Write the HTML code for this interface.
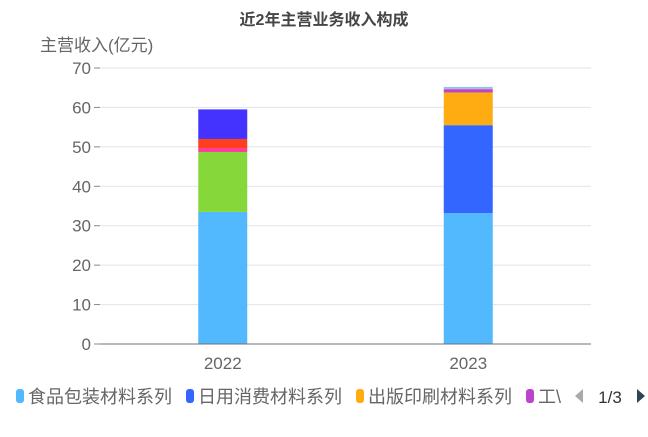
<!DOCTYPE html>
<html><head><meta charset="utf-8"><style>
body{margin:0;background:#fff;font-family:"Liberation Sans","Noto Sans CJK SC",sans-serif}
svg text{font-family:"Liberation Sans","Noto Sans CJK SC",sans-serif}
</style></head><body>
<svg id="c" width="648" height="432">
<text x="324" y="25" text-anchor="middle" font-size="16" font-weight="bold" fill="#464646">近2年主营业务收入构成</text>
<text x="40" y="51" font-size="17" fill="#666">主营收入(亿元)</text>
<g id="grid"></g><g id="bars"></g><g id="axes"></g><g id="legend"></g>
</svg>
<script>
const categories=["2022","2023"];
const seriesNames=["食品包装材料系列","日用消费材料系列","出版印刷材料系列","工业用材料系列","农用材料系列","医用材料系列","其他材料系列","其他业务","贸易业务"];
const seriesColors=["#52b9ff","#3366ff","#ffab12","#bb44cc","#86d83a","#ff3c9c","#ff3e1e","#4433ff","#7ec8f0"];
const values2022=[33.5,0,0,0,15.2,1.0,2.3,7.5,0];
const values2023=[33.2,22.3,8.3,0.7,0,0.2,0,0,0.5];
const seriesValues=[values2022,values2023];
const yTicks=[0,10,20,30,40,50,60,70];
const NS="http://www.w3.org/2000/svg";
const x0=100,x1=591,y0=344,yTop=68,yMax=70;
const y=v=>y0-v/yMax*(y0-yTop);
const band=(x1-x0)/categories.length;
const xc=i=>x0+band*(i+0.5);
const barW=49;
function mk(t,a,p){const e=document.createElementNS(NS,t);for(const k in a)e.setAttribute(k,a[k]);p.appendChild(e);return e;}
const grid=document.getElementById('grid'),bars=document.getElementById('bars'),axes=document.getElementById('axes'),legend=document.getElementById('legend');
yTicks.forEach(t=>{
 if(t>0){const l=mk('line',{x1:x0,x2:x1,y1:y(t),y2:y(t),stroke:'#e0e3ea'},grid);
 
 }
 const tl=mk('text',{x:91,y:y(t)+6,'text-anchor':'end','font-size':17,fill:'#666'},axes);
 tl.textContent=t;
 
 
 const tk=mk('line',{x1:94,x2:100,y1:y(t),y2:y(t),stroke:'#888'},axes);
 
 
});
const ax=mk('line',{x1:x0,x2:x1,y1:y0,y2:y0,stroke:'#6e7079'},axes);


categories.forEach((c,i)=>{
 const t=mk('text',{x:xc(i),y:369,'text-anchor':'middle','font-size':17,fill:'#666'},axes);
 t.textContent=c;
 
 
 let acc=0;
 seriesValues[i].forEach((v,s)=>{
  if(v<=0)return;
  const r=mk('rect',{x:xc(i)-barW/2,y:y(acc+v),width:barW,height:y(acc)-y(acc+v),fill:seriesColors[s]},bars);
  
  
  acc+=v;
 });
});
let lx=16;
[0,1,2,3].forEach(s=>{
 const r=mk('rect',{x:lx,y:389,width:8,height:14,rx:3,fill:seriesColors[s]},legend);
 
 
 const t=mk('text',{x:lx+12,y:403,'font-size':18,fill:'#666'},legend);
 t.textContent=s<3?seriesNames[s]:'工\\';
 
 
 lx+=s<3?170:0;
});
const pl=mk('path',{d:'M583 389 L575 396 L583 403 Z',fill:'#aaa'},legend);


const pt=mk('text',{x:610,y:403,'text-anchor':'middle','font-size':17,fill:'#333'},legend);
pt.textContent='1/3';


const pn=mk('path',{d:'M637 389 L645 396 L637 403 Z',fill:'#2f4554'},legend);


</script>
</body></html>
